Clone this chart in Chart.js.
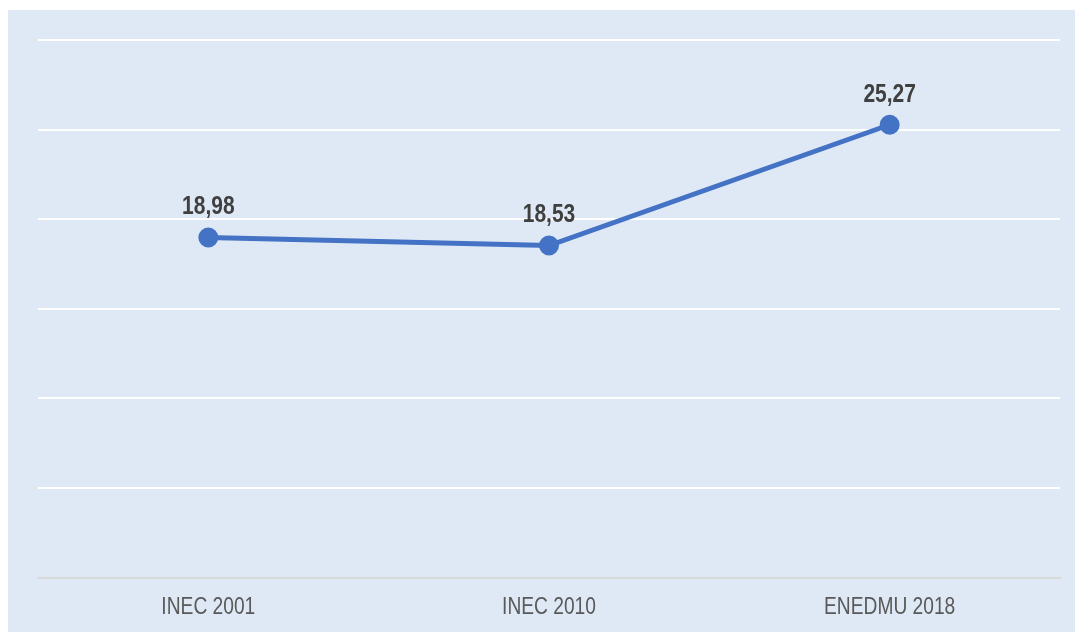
<!DOCTYPE html>
<html>
<head>
<meta charset="utf-8">
<script src="https://cdn.jsdelivr.net/npm/chart.js@4"></script>
<style>
  html, body { margin: 0; padding: 0; background: #ffffff; }
  #wrap { position: absolute; left: 8px; top: 10px; width: 1067px; height: 622px; background: #dee9f5; }
</style>
</head>
<body>
<div id="wrap"><canvas id="chart"></canvas></div>
<script>
const categories = ['INEC 2001', 'INEC 2010', 'ENEDMU 2018'];
const values = [18.98, 18.53, 25.27];

const FONT = '"Liberation Sans", Arial, sans-serif';

// text squeezed horizontally to look like Arial Narrow
function narrowText(ctx, text, x, y, scale) {
    ctx.save();
    ctx.translate(x, y);
    ctx.scale(scale, 1);
    ctx.fillText(text, 0, 0);
    ctx.restore();
}

// value labels above points and category labels under the axis
const narrowLabels = {
    id: 'narrowLabels',
    afterDatasetsDraw(chart) {
        const ctx = chart.ctx;
        const meta = chart.getDatasetMeta(0);
        const xScale = chart.scales.x;
        ctx.save();
        ctx.textAlign = 'center';
        ctx.textBaseline = 'middle';

        ctx.font = 'bold 25px ' + FONT;
        ctx.fillStyle = '#404040';
        meta.data.forEach((pt, i) => {
            narrowText(ctx, values[i].toFixed(2).replace('.', ','), pt.x, pt.y - 30, 0.84);
        });

        ctx.font = '24px ' + FONT;
        ctx.fillStyle = '#595959';
        categories.forEach((c, i) => {
            narrowText(ctx, c, xScale.getPixelForValue(i), xScale.top + 30, 0.8);
        });
        ctx.restore();
    }
};

new Chart(document.getElementById('chart'), {
    type: 'line',
    data: {
        labels: categories,
        datasets: [{
            data: values,
            borderColor: '#4472c4',
            backgroundColor: '#4472c4',
            borderWidth: 5,
            pointRadius: 7.5,
            pointHoverRadius: 7.5,
            tension: 0
        }]
    },
    options: {
        responsive: true,
        maintainAspectRatio: false,
        animation: false,
        layout: { padding: { left: 30, right: 15, top: 30, bottom: 0 } },
        plugins: {
            legend: { display: false },
            tooltip: { enabled: false }
        },
        scales: {
            x: {
                offset: true,
                grid: { display: false },
                border: { color: '#d9d9d9', width: 2 },
                ticks: {
                    color: 'rgba(0,0,0,0)',
                    padding: 10,
                    font: { size: 22, family: FONT }
                }
            },
            y: {
                min: 0,
                max: 30,
                ticks: { display: false, stepSize: 5 },
                grid: { color: '#ffffff', lineWidth: 2, drawTicks: false },
                border: { display: false }
            }
        }
    },
    plugins: [narrowLabels]
});
</script>
</body>
</html>
